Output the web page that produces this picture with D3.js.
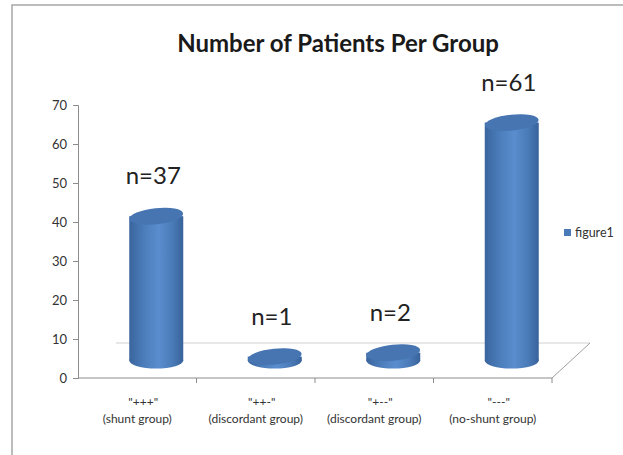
<!DOCTYPE html>
<html>
<head>
<meta charset="utf-8">
<script src="https://cdn.jsdelivr.net/npm/d3@7"></script>
<style>
  body { margin: 0; background: #fff; }
  text { font-family: Lato, "Open Sans", sans-serif; }
</style>
</head>
<body>
<div id="chart"></div>
<script>
const categories = ['"+++"', '"++-"', '"+--"', '"---"'];
const groupNames = ["(shunt group)", "(discordant group)", "(discordant group)", "(no-shunt group)"];
const values = [37, 1, 2, 61];
const yTicks = [0, 10, 20, 30, 40, 50, 60, 70];
const seriesName = "figure1";

function drawChart() {
    const W = 623, H = 455;
    const depth = {dx: 38, dy: -35};   // floor depth offset (back edge)
    const half = {dx: depth.dx / 2, dy: depth.dy / 2};

    const svg = d3.select("#chart")
        .append("svg")
        .attr("width", W)
        .attr("height", H);

    // chart frame
    svg.append("rect")
        .attr("x", 12).attr("y", 5)
        .attr("width", W + 10).attr("height", H + 10)
        .attr("fill", "#fff")
        .attr("stroke", "#a6a6a6")
        .attr("stroke-width", 1.5);

    const x = d3.scaleBand().domain(categories).range([78, 552]);
    const y = d3.scaleLinear().domain([0, 70]).range([378, 105]);

    const defs = svg.append("defs");
    const grad = defs.append("linearGradient").attr("id", "cyl")
        .attr("x1", "0").attr("x2", "1").attr("y1", "0").attr("y2", "0");
    [["0%", "#3a659e"], ["30%", "#4d7fbd"], ["55%", "#5a8dcd"], ["80%", "#4a7bb8"], ["100%", "#38629a"]]
        .forEach(s => grad.append("stop").attr("offset", s[0]).attr("stop-color", s[1]));

    // floor
    const x0 = x.range()[0], x1 = x.range()[1], y0 = y(0);
    svg.append("line")
        .attr("x1", x0 + depth.dx).attr("y1", y0 + depth.dy)
        .attr("x2", x1 + depth.dx).attr("y2", y0 + depth.dy)
        .attr("stroke", "#d0d0d0");
    svg.append("line")
        .attr("x1", x1).attr("y1", y0)
        .attr("x2", x1 + depth.dx).attr("y2", y0 + depth.dy)
        .attr("stroke", "#a0a0a0");

    // y axis
    const yAxis = svg.append("g")
        .attr("transform", `translate(${x0},0)`)
        .call(d3.axisLeft(y).tickValues(yTicks).tickSize(5).tickPadding(6));
    yAxis.select(".domain").attr("stroke", "#8c8c8c");
    yAxis.selectAll(".tick line").attr("stroke", "#8c8c8c");
    yAxis.selectAll("text").attr("fill", "#333").style("font-size", "13px");

    // x axis
    svg.append("line")
        .attr("x1", x0).attr("x2", x1).attr("y1", y0).attr("y2", y0)
        .attr("stroke", "#8c8c8c");
    svg.selectAll(".xtick")
        .data(categories)
        .enter().append("line")
        .attr("x1", d => x(d) + x.bandwidth()).attr("x2", d => x(d) + x.bandwidth())
        .attr("y1", y0).attr("y2", y0 + 5)
        .attr("stroke", "#8c8c8c");

    const xl = svg.selectAll(".xlab")
        .data(categories)
        .enter().append("text")
        .attr("text-anchor", "middle")
        .attr("fill", "#333")
        .style("font-size", "12px");
    xl.append("tspan")
        .attr("x", d => x(d) + x.bandwidth() / 2 + 6)
        .attr("y", 406)
        .text(d => d);
    xl.append("tspan")
        .attr("x", d => x(d) + x.bandwidth() / 2)
        .attr("y", 423)
        .text((d, i) => groupNames[i]);

    // cylinders
    const rx = 27, ry = 8;
    const bars = svg.selectAll(".bar")
        .data(values)
        .enter().append("g")
        .attr("class", "bar");
    const cx = (d, i) => x(categories[i]) + x.bandwidth() / 2 + half.dx;
    const top = d => y(d) + half.dy;
    const base = y0 + half.dy;

    bars.append("ellipse")
        .attr("cx", cx).attr("cy", base)
        .attr("rx", rx).attr("ry", ry)
        .attr("fill", "url(#cyl)");
    bars.append("rect")
        .attr("x", (d, i) => cx(d, i) - rx)
        .attr("y", top)
        .attr("width", rx * 2)
        .attr("height", d => base - top(d))
        .attr("fill", "url(#cyl)");
    bars.append("ellipse")
        .attr("cx", cx).attr("cy", top)
        .attr("rx", rx).attr("ry", ry)
        .attr("fill", "#4675b2")
        .attr("transform", (d, i) => `rotate(-6,${cx(d, i)},${top(d)})`);

    // data labels
    svg.selectAll(".vlab")
        .data(values)
        .enter().append("text")
        .attr("x", (d, i) => cx(d, i) - 3)
        .attr("y", d => top(d) - 32)
        .attr("text-anchor", "middle")
        .attr("fill", "#222")
        .style("font-size", "24px")
        .text(d => `n=${d}`);

    // title
    svg.append("text")
        .attr("x", 338).attr("y", 52)
        .attr("text-anchor", "middle")
        .attr("fill", "#1a1a1a")
        .style("font-size", "24px")
        .style("font-weight", "bold")
        .text("Number of Patients Per Group");

    // legend
    const lg = svg.append("g").attr("transform", "translate(564,229)");
    lg.append("rect").attr("width", 7).attr("height", 7).attr("fill", "#4a7bb8");
    lg.append("text").attr("x", 11).attr("y", 8)
        .attr("fill", "#333").style("font-size", "12.5px")
        .text(seriesName);
}

drawChart();
</script>
</body>
</html>
